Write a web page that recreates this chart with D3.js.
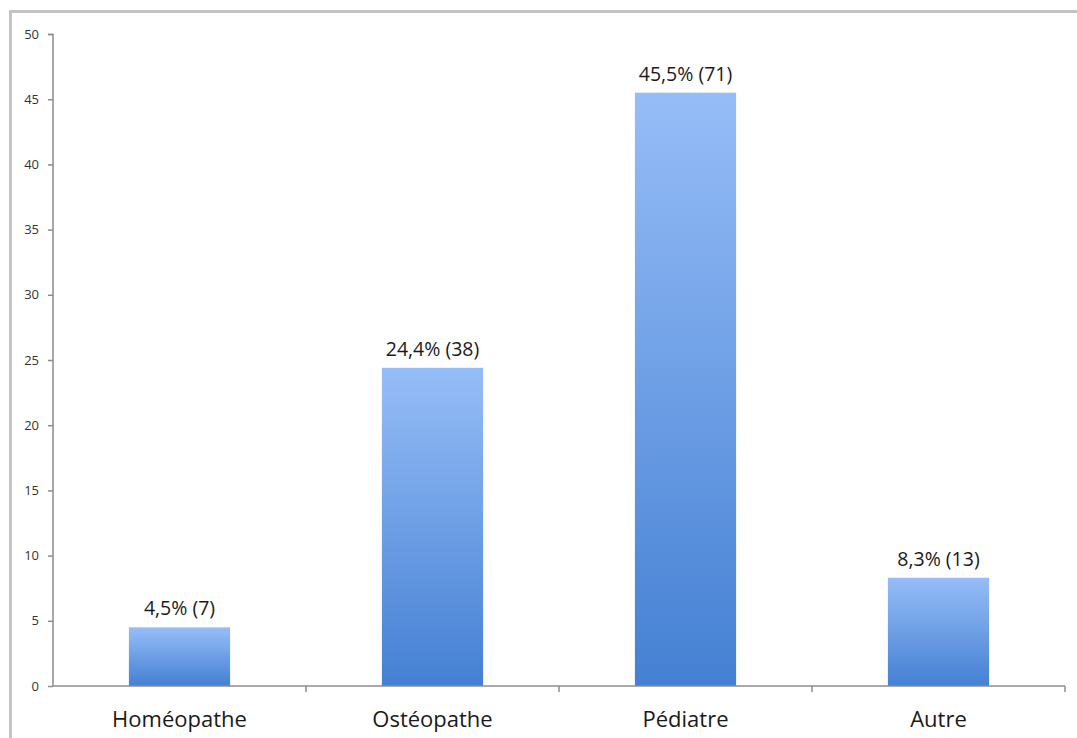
<!DOCTYPE html>
<html><head><meta charset="utf-8">
<script src="https://cdn.jsdelivr.net/npm/d3@7"></script>
<style>body{margin:0;background:#fff;}svg{display:block;}</style>
</head><body>
<svg id="c" width="1077" height="738"></svg>
<script>
const categories = ["Homéopathe", "Ostéopathe", "Pédiatre", "Autre"];
const values = [4.5, 24.4, 45.5, 8.3];
const counts = [7, 38, 71, 13];
const yTicks = [0, 5, 10, 15, 20, 25, 30, 35, 40, 45, 50];

const svg = d3.select("#c");
const W = 1077, H = 738;

// frame
svg.append("rect").attr("x", 9).attr("y", 10).attr("width", W - 9).attr("height", 3).attr("fill", "#c4c4c4");
svg.append("rect").attr("x", 9).attr("y", 10).attr("width", 3).attr("height", H - 10).attr("fill", "#c4c4c4");

const x = d3.scaleBand().domain(categories).range([53, 1065]).paddingInner(0.6).paddingOuter(0.3);
const y = d3.scaleLinear().domain([0, 50]).range([686, 34]);

const defs = svg.append("defs");
const g = defs.append("linearGradient").attr("id", "bg").attr("x1", 0).attr("y1", 0).attr("x2", 0).attr("y2", 1);
g.append("stop").attr("offset", "0%").attr("stop-color", "#96bdf7");
g.append("stop").attr("offset", "100%").attr("stop-color", "#4480d3");

const font = "'Open Sans', 'Noto Sans', sans-serif";

// bars
svg.selectAll("rect.bar").data(categories).join("rect").attr("class", "bar")
  .attr("x", d => x(d)).attr("width", x.bandwidth())
  .attr("y", (d, i) => y(values[i])).attr("height", (d, i) => y(0) - y(values[i]))
  .attr("fill", "url(#bg)");

// value labels
svg.selectAll("text.val").data(categories).join("text").attr("class", "val")
  .attr("x", d => x(d) + x.bandwidth() / 2)
  .attr("y", (d, i) => y(values[i]) - 12)
  .attr("text-anchor", "middle")
  .attr("font-family", font).attr("font-size", 19.5).attr("fill", "#1a1a1a")
  .text((d, i) => String(values[i]).replace(".", ",") + "% (" + counts[i] + ")");

// y axis
const yAxis = svg.append("g").attr("transform", "translate(53,0)")
  .call(d3.axisLeft(y).tickValues(yTicks).tickSize(5).tickPadding(9).tickFormat(d3.format("d")));
yAxis.select(".domain").attr("stroke", "#8c8c8c").attr("stroke-width", 1.5).attr("d", "M-5,34.5H0V686");
yAxis.selectAll(".tick line").attr("stroke", "#8c8c8c").attr("stroke-width", 1.5);
yAxis.selectAll(".tick text").attr("font-family", font).attr("font-size", 13).attr("fill", "#333");

// x axis
const xa = svg.append("g").attr("transform", "translate(0,686)");
xa.append("line").attr("x1", 53).attr("x2", 1065).attr("stroke", "#8c8c8c").attr("stroke-width", 1.5);
const bounds = d3.range(1, categories.length + 1).map(i => 53 + i * x.step());
xa.selectAll("line.t").data(bounds).join("line").attr("class", "t")
  .attr("x1", d => d).attr("x2", d => d).attr("y1", 0).attr("y2", 6)
  .attr("stroke", "#8c8c8c").attr("stroke-width", 1.5);
xa.selectAll("text").data(categories).join("text")
  .attr("x", d => x(d) + x.bandwidth() / 2).attr("y", 41)
  .attr("text-anchor", "middle")
  .attr("font-family", font).attr("font-size", 22).attr("fill", "#1a1a1a")
  .text(d => d);
</script>
</body></html>
